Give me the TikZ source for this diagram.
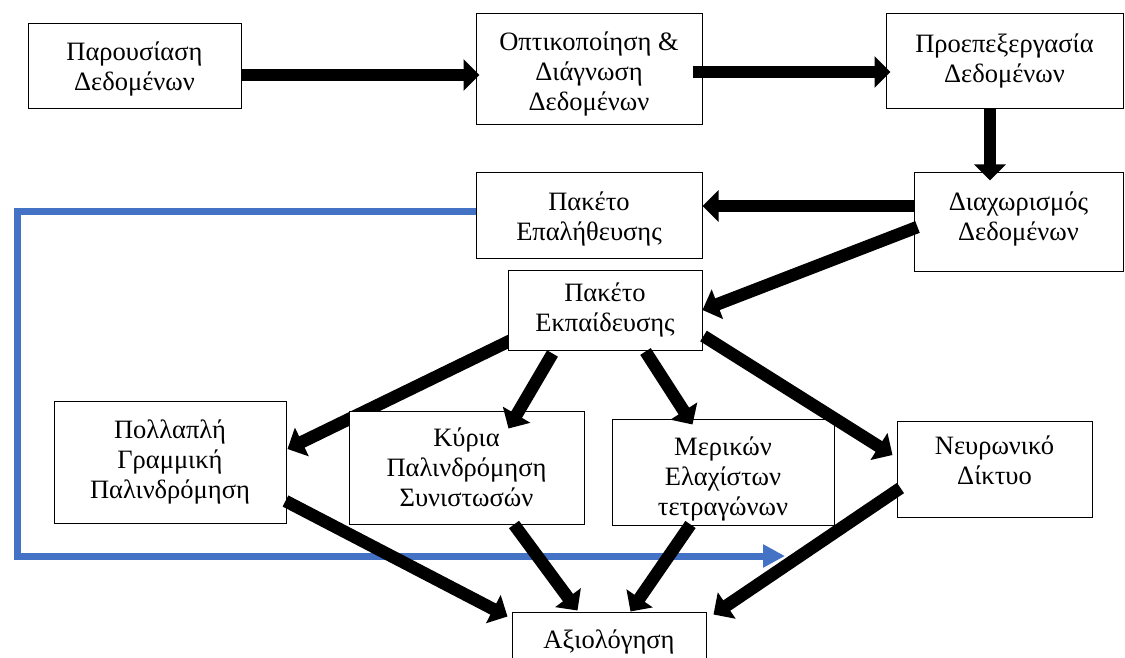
\documentclass[tikz,border=0pt]{standalone}
\usepackage{fontspec}
\setmainfont{Liberation Serif}
\usetikzlibrary{arrows.meta,calc}
\definecolor{wordblue}{RGB}{68,114,196}
\newcommand{\shiftedlines}[2]{\raisebox{#1}[\height][\depth]{\begin{tabular}{@{}c@{}}#2\end{tabular}}}
\begin{document}
\begin{tikzpicture}[x=1pt,y=-1pt,
  box/.style={draw=black,line width=1pt,fill=white,inner sep=0pt,align=center,
    font=\fontsize{26.5}{30}\selectfont},
  flow/.style={line width=12.5pt,-{Triangle[width=31pt,length=16pt]}},
  back/.style={draw=wordblue,line width=7pt,-{Triangle[width=22pt,length=22pt]}}]
\useasboundingbox (0,0) rectangle (1125,658);
\clip (0,0) rectangle (1125,658);

% box positions
\path
  (134.5,66.5) coordinate (c1)
  (589,69.25) coordinate (c2)
  (1004.5,60.7) coordinate (c3)
  (1018.5,222) coordinate (c4)
  (589,215.5) coordinate (c5)
  (605,310) coordinate (c6)
  (170,462) coordinate (c7)
  (466.5,467.5) coordinate (c8)
  (723,472) coordinate (c9)
  (994.5,469) coordinate (c10)
  (609,642) coordinate (c11);

% invisible placeholders to get anchors for early connectors
\node[box,draw=none,fill=none,minimum width=226pt,minimum height=85pt] (p5) at (c5) {};
\node[box,draw=none,fill=none,minimum width=194pt,minimum height=80pt] (p6) at (c6) {};
\node[box,draw=none,fill=none,minimum width=232pt,minimum height=122pt] (p7) at (c7) {};

% validation set feedback (blue)
\coordinate (bl) at (17,556);
\coordinate (fb) at (785,556);
\draw[back] ($(p5.west)+(0,-4.5)$) -| (bl) -- (fb);

% connector lying behind box 8
\draw[flow] ($(p6.south west)+(3,-10)$) -- ($(p7.east)+(1,-13)$);

% boxes
\node[box,minimum width=213pt,minimum height=85pt] (b1) at (c1) {\shiftedlines{-3pt}{Παρουσίαση\\Δεδομένων}};
\node[box,minimum width=226pt,minimum height=111.5pt] (b2) at (c2) {\shiftedlines{-5pt}{Οπτικοποίηση \&\\Διάγνωση\\Δεδομένων}};
\node[box,minimum width=237pt,minimum height=94.7pt] (b3) at (c3) {Προεπεξεργασία\\Δεδομένων};
\node[box,minimum width=209pt,minimum height=98pt] (b4) at (c4) {\shiftedlines{2pt}{Διαχωρισμός\\Δεδομένων}};
\node[box,minimum width=226pt,minimum height=85pt] (b5) at (c5) {\shiftedlines{-4pt}{Πακέτο\\Επαλήθευσης}};
\node[box,minimum width=194pt,minimum height=80pt] (b6) at (c6) {Πακέτο\\Εκπαίδευσης};
\node[box,minimum width=232pt,minimum height=122pt] (b7) at (c7) {Πολλαπλή\\Γραμμική\\Παλινδρόμηση};
\node[box,minimum width=235pt,minimum height=113pt] (b8) at (c8) {Κύρια\\Παλινδρόμηση\\Συνιστωσών};
\node[box,minimum width=222pt,minimum height=106pt] (b9) at (c9) {\shiftedlines{-7pt}{Μερικών\\Ελαχίστων\\τετραγώνων}};
\node[box,minimum width=195pt,minimum height=96pt] (b10) at (c10) {\shiftedlines{6pt}{Νευρωνικό\\Δίκτυο}};
\node[box,minimum width=194pt,minimum height=60pt] (b11) at (c11) {Αξιολόγηση};

% connectors
\draw[flow] ($(b1.east)+(0,8.5)$) -- ($(b2.west)+(4,5.75)$);
\draw[flow] ($(b2.east)+(-10,2.75)$) -- ($(b3.west)+(5,11.3)$);
\draw[flow] ($(b3.south)+(-14.5,0)$) -- ($(b4.north)+(-28.5,8)$);
\draw[flow] ($(b4.west)+(0,-16)$) -- ($(b5.east)+(0,-9.5)$);
\draw[flow] ($(b4.west)+(4,5)$) -- (b6.east);
\draw[flow] ($(b6.south west)+(45,3)$) -- ($(b8.north west)+(160,18)$);
\draw[flow] ($(b6.south west)+(138,1)$) -- ($(b9.north west)+(81,6)$);
\draw[flow] ($(b6.east)+(1,26)$) -- ($(b10.west)+(-4,-14)$);
\draw[flow] ($(b7.east)+(-1,39)$) -- ($(b11.north west)+(-4,5)$);
\draw[flow] ($(b8.south)+(47.5,0)$) -- ($(b11.north west)+(66,-1)$);
\draw[flow] ($(b9.south west)+(79,-1)$) -- ($(b11.north west)+(119,0)$);
\draw[flow] ($(b10.west)+(4,19)$) -- ($(b11.north east)+(7,3)$);
\end{tikzpicture}
\end{document}
